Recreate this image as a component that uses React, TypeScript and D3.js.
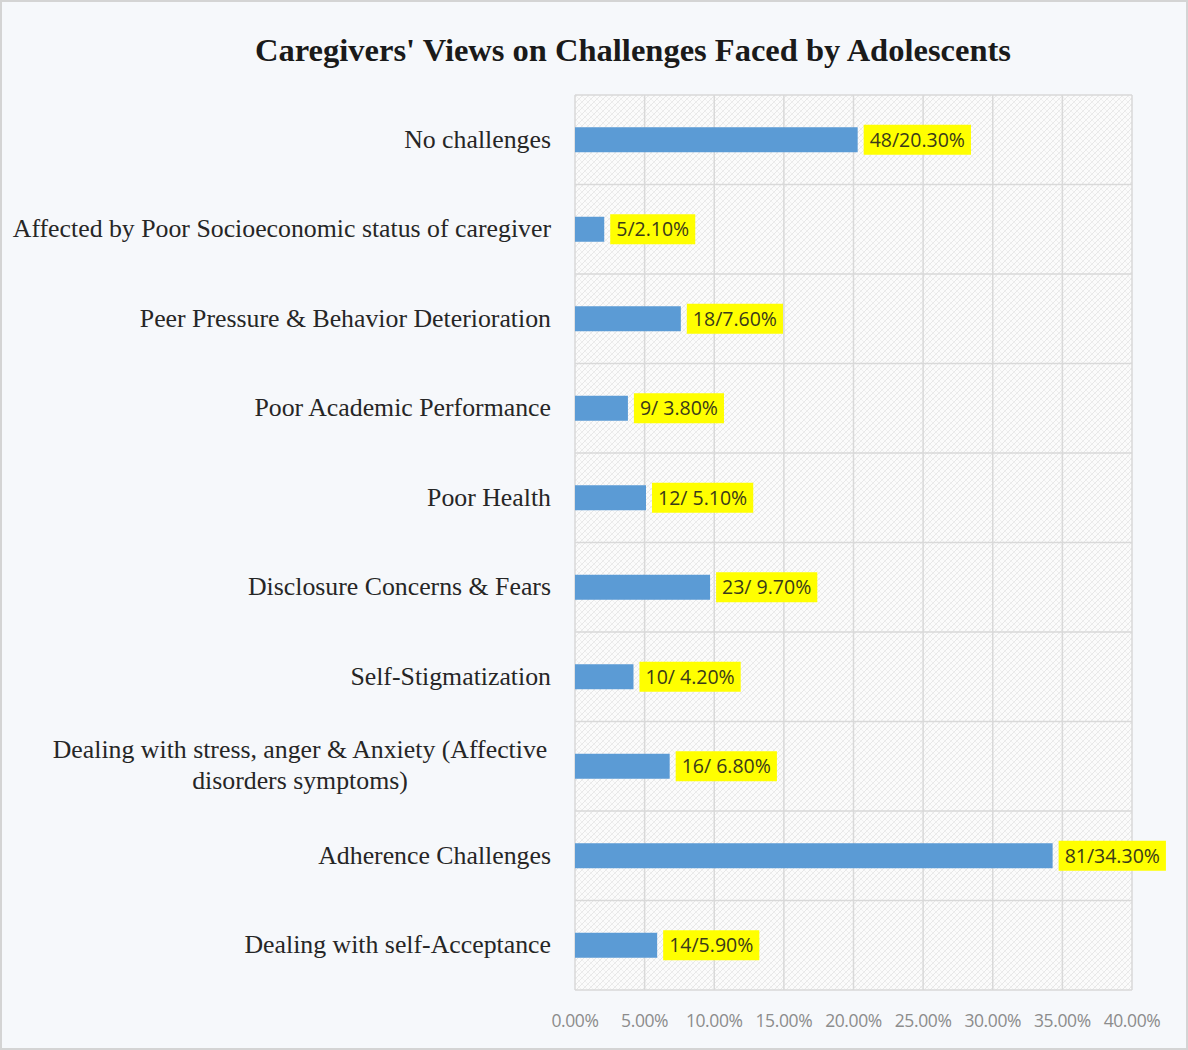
import React, { useEffect, useRef } from "react";
import * as d3 from "d3";

const categories = [
  "No challenges",
  "Affected by Poor Socioeconomic status of caregiver",
  "Peer Pressure & Behavior Deterioration",
  "Poor Academic Performance",
  "Poor Health",
  "Disclosure Concerns & Fears",
  "Self-Stigmatization",
  "Dealing with stress, anger & Anxiety (Affective|disorders symptoms)",
  "Adherence Challenges",
  "Dealing with self-Acceptance",
];
const percents = [20.3, 2.1, 7.6, 3.8, 5.1, 9.7, 4.2, 6.8, 34.3, 5.9];
const dataLabels = [
  "48/20.30%",
  "5/2.10%",
  "18/7.60%",
  "9/ 3.80%",
  "12/ 5.10%",
  "23/ 9.70%",
  "10/ 4.20%",
  "16/ 6.80%",
  "81/34.30%",
  "14/5.90%",
];
const xTicks = [0, 5, 10, 15, 20, 25, 30, 35, 40];
const title = "Caregivers' Views on Challenges Faced by Adolescents";

export default function App() {
  const ref = useRef<SVGSVGElement>(null);

  useEffect(() => {
    const svg = d3.select(ref.current);
    svg.selectAll("*").remove();
    const W = 1188, H = 1050;
    const left = 575, right = 1132, top = 95, bottom = 990;

    const defs = svg.append("defs");
    const pat = defs.append("pattern")
      .attr("id", "hatch")
      .attr("patternUnits", "userSpaceOnUse")
      .attr("width", 6).attr("height", 6);
    pat.append("rect").attr("width", 6).attr("height", 6).attr("fill", "#fbfbfb");
    pat.append("path").attr("d", "M0,6 L6,0 M-1,1 L1,-1 M5,7 L7,5")
      .attr("stroke", "#e2e2e2").attr("stroke-width", 0.8);
    pat.append("path").attr("d", "M0,0 L6,6 M-1,5 L1,7 M5,-1 L7,1")
      .attr("stroke", "#eaeaea").attr("stroke-width", 0.6);

    svg.append("rect").attr("x", 1).attr("y", 1).attr("width", W - 2).attr("height", H - 2)
      .attr("fill", "#f6f8fb").attr("stroke", "#d4d4d4").attr("stroke-width", 2);

    const x = d3.scaleLinear().domain([0, 40]).range([left, right]);
    const y = d3.scaleBand<number>().domain(d3.range(categories.length)).range([top, bottom]);

    svg.append("rect").attr("x", left).attr("y", top).attr("width", right - left).attr("height", bottom - top)
      .attr("fill", "url(#hatch)");

    const grid = svg.append("g");
    xTicks.forEach((t) => {
      grid.append("line").attr("x1", x(t)).attr("x2", x(t)).attr("y1", top).attr("y2", bottom)
        .attr("stroke", "#d9d9d9").attr("stroke-width", 1.5);
    });
    d3.range(categories.length + 1).forEach((i) => {
      const yy = top + i * y.step();
      grid.append("line").attr("x1", left).attr("x2", right).attr("y1", yy).attr("y2", yy)
        .attr("stroke", "#d9d9d9").attr("stroke-width", 1.5);
    });

    svg.append("text").attr("x", 633).attr("y", 61).attr("text-anchor", "middle")
      .attr("font-family", "Liberation Serif, Times New Roman, serif")
      .attr("font-weight", "bold").attr("font-size", 32.5).attr("fill", "#1a1a1a")
      .text(title);

    const barH = 25;
    categories.forEach((c, i) => {
      const cy = (y(i) as number) + y.bandwidth() / 2;
      svg.append("rect").attr("x", x(0)).attr("y", cy - barH / 2)
        .attr("width", x(percents[i]) - x(0)).attr("height", barH).attr("fill", "#5b9bd5");

      const lines = c.split("|");
      const t = svg.append("text")
        .attr("font-family", "Liberation Serif, Times New Roman, serif")
        .attr("font-size", 25.8).attr("fill", "#262626");
      if (lines.length === 1) {
        t.attr("text-anchor", "end").attr("x", 551).attr("y", cy + 8).text(c);
      } else {
        t.attr("text-anchor", "middle");
        t.append("tspan").attr("x", 300).attr("y", cy - 8).text(lines[0]);
        t.append("tspan").attr("x", 300).attr("y", cy + 23).text(lines[1]);
      }

      const g = svg.append("g");
      const bx = x(percents[i]) + 6;
      const rect = g.append("rect").attr("fill", "#ffff00");
      const lt = g.append("text").attr("x", bx + 6).attr("y", cy + 7)
        .attr("font-family", "Open Sans, Liberation Sans, sans-serif")
        .attr("font-size", 19.5).attr("fill", "#3a3a1a")
        .text(dataLabels[i]);
      const w = (lt.node() as SVGTextElement).getComputedTextLength();
      rect.attr("x", bx).attr("y", cy - 15).attr("width", w + 12).attr("height", 30);
    });

    xTicks.forEach((t) => {
      svg.append("text").attr("x", x(t)).attr("y", 1027).attr("text-anchor", "middle")
        .attr("font-family", "Open Sans, Liberation Sans, sans-serif")
        .attr("font-size", 17.5).attr("fill", "#8c8c8c").attr("letter-spacing", -0.4)
        .text(t.toFixed(2) + "%");
    });
  }, []);

  return (
    <svg ref={ref} width={1188} height={1050}
      style={{ position: "absolute", left: 0, top: 0 }} />
  );
}
